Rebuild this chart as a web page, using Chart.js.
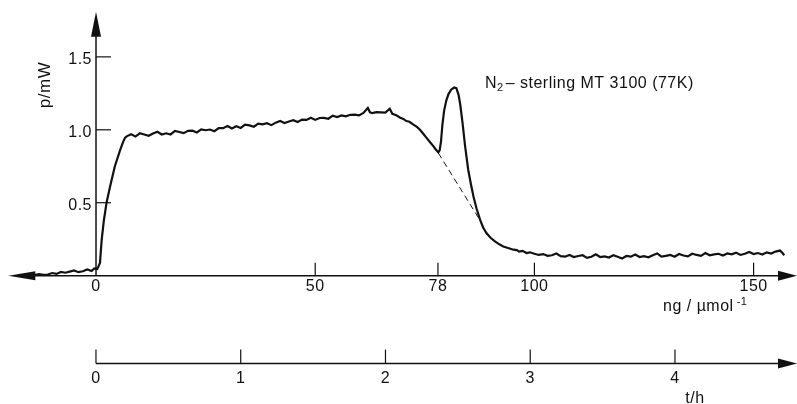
<!DOCTYPE html>
<html>
<head>
<meta charset="utf-8">
<script src="https://cdn.jsdelivr.net/npm/chart.js@4/dist/chart.umd.min.js"></script>
<style>
  body { margin: 0; background: #fff; }
  #wrap { width: 797px; height: 404px; position: relative; }
</style>
</head>
<body>
<div id="wrap"><canvas id="chart"></canvas></div>
<script>
// adsorbed amount (ng/µmol^-1) and power (mW)
const loadX = [
  -14, -13, -12, -11, -10, -9, -8, -7, -6, -5, -4, -3, -2, -1, -0.4, 0.3,
  0.9, 1.3, 1.8, 2.4, 3.2, 4.3, 5.5, 6.1, 6.6,
  7, 8, 9, 10, 11, 12, 13, 14, 15, 16, 17, 18, 19, 20, 21, 22, 23, 24, 25,
  26, 27, 28, 29, 30, 31, 32, 33, 34, 35, 36, 37, 38, 39, 40, 41, 42, 43,
  44, 45, 46, 47, 48, 49, 50, 51, 52, 53, 54, 55, 56, 57, 58, 59, 60, 61,
  62, 62.5, 63, 64, 65, 66, 67, 67.6, 68.5, 69.3, 70.1, 70.8, 71.5, 72.4,
  73.2, 73.9, 74.6, 75.4, 76.2, 76.9, 77.5, 78.1,
  78.4, 78.7, 79.0, 79.4, 79.9, 80.4, 81.0, 81.7, 82.2, 82.7, 83.1, 83.6,
  84.2, 84.9, 85.5, 86.1, 86.8, 87.6, 88.3, 89.1, 90, 91, 92, 92.9, 94,
  95.2, 96, 96.5, 97.3, 98.2, 99,
  100, 101, 102, 103, 104, 105, 106, 107, 108, 109, 110, 111, 112, 113,
  114, 115, 116, 117, 118, 119, 120, 121, 122, 123, 124, 125, 126, 127,
  128, 129, 130, 131, 132, 133, 134, 135, 136, 137, 138, 139, 140, 141,
  142, 143, 144, 145, 146, 147, 148, 149, 150, 151, 152, 153, 154, 155,
  156, 156.5, 157
];
const powerY = [
  0.004, 0.01, 0.006, 0.008, 0.018, 0.012, 0.025, 0.02, 0.028, 0.036, 0.024, 0.03, 0.042, 0.032, 0.05, 0.045,
  0.087, 0.247, 0.38, 0.5, 0.61, 0.75, 0.86, 0.91, 0.945,
  0.955, 0.969, 0.954, 0.976, 0.968, 0.959, 0.975, 0.987, 0.968, 0.976, 0.968, 0.992, 0.985, 0.977, 0.993, 0.994, 0.982, 1.003, 0.997,
  1.002, 0.99, 1.011, 1.011, 1.026, 1.009, 1.024, 1.013, 1.035, 1.03, 1.021, 1.042, 1.037, 1.045, 1.032, 1.049, 1.06, 1.047,
  1.057, 1.066, 1.053, 1.07, 1.068, 1.083, 1.068, 1.081, 1.082, 1.076, 1.097, 1.088, 1.099, 1.092, 1.103, 1.104, 1.099, 1.116,
  1.15, 1.12, 1.114, 1.121, 1.12, 1.118, 1.145, 1.11, 1.1, 1.085, 1.075, 1.06, 1.055, 1.035,
  1.02, 1.0, 0.975, 0.945, 0.915, 0.89, 0.865, 0.845,
  0.86, 0.92, 1.03, 1.13, 1.2, 1.245, 1.275, 1.29, 1.285, 1.24, 1.17, 1.05,
  0.886, 0.726, 0.63, 0.543, 0.46, 0.384, 0.33, 0.29, 0.26, 0.235, 0.215, 0.2, 0.19,
  0.178, 0.175, 0.165, 0.17, 0.155, 0.16,
  0.15, 0.142, 0.148, 0.136, 0.14, 0.152, 0.134, 0.13, 0.142, 0.128, 0.135, 0.14, 0.122, 0.13,
  0.146, 0.128, 0.132, 0.124, 0.14, 0.13, 0.118, 0.135, 0.13, 0.145, 0.128, 0.134, 0.126, 0.14,
  0.152, 0.13, 0.136, 0.142, 0.13, 0.148, 0.138, 0.132, 0.15, 0.142, 0.136, 0.155, 0.14, 0.146,
  0.15, 0.138, 0.152, 0.146, 0.158, 0.142, 0.15, 0.162, 0.148, 0.155, 0.145, 0.16, 0.152, 0.165,
  0.172, 0.158, 0.14
];
// dashed baseline under the desorption peak
const baseX = [78.1, 88];
const baseY = [0.84, 0.36];

const loadTicks = [0, 50, 78, 100, 150];
const powerTicks = [0.5, 1.0, 1.5];
const powerTickLabels = ['0.5', '1.0', '1.5'];
const hourTicks = [0, 1, 2, 3, 4];

const ink = '#111';
const family = '"Liberation Sans", Arial, sans-serif';
const font = '16px ' + family;

function arrow(ctx, x, y, dir, len, half) {
    ctx.beginPath();
    if (dir === 'right') { ctx.moveTo(x, y); ctx.lineTo(x - len, y - half); ctx.lineTo(x - len, y + half); }
    if (dir === 'left') { ctx.moveTo(x, y); ctx.lineTo(x + len, y - half); ctx.lineTo(x + len, y + half); }
    if (dir === 'up') { ctx.moveTo(x, y); ctx.lineTo(x - half, y + len); ctx.lineTo(x + half, y + len); }
    ctx.closePath();
    ctx.fill();
}

const axesPlugin = {
    id: 'handAxes',
    afterDatasetsDraw(chart) {
        const ctx = chart.ctx;
        const xs = chart.scales.x, ys = chart.scales.y, hs = chart.scales.h;
        const y0 = ys.getPixelForValue(0);
        const x0 = xs.getPixelForValue(0);
        const right = chart.width;
        ctx.save();
        ctx.strokeStyle = ink;
        ctx.fillStyle = ink;
        ctx.lineWidth = 1.5;

        // main horizontal axis
        const left = xs.getPixelForValue(-20);
        ctx.beginPath();
        ctx.moveTo(left + 10, y0);
        ctx.lineTo(right - 10, y0);
        ctx.stroke();
        arrow(ctx, left, y0, 'left', 27, 4.5);
        arrow(ctx, right, y0, 'right', 19, 5);

        // vertical axis
        const top = ys.getPixelForValue(1.81);
        ctx.beginPath();
        ctx.moveTo(x0, y0);
        ctx.lineTo(x0, top + 10);
        ctx.stroke();
        arrow(ctx, x0, top, 'up', 25, 5);

        ctx.font = font;
        ctx.letterSpacing = '0.5px';
        ctx.lineWidth = 1.2;
        // y ticks
        ctx.textAlign = 'right';
        ctx.textBaseline = 'middle';
        powerTicks.forEach((v, i) => {
            const py = ys.getPixelForValue(v);
            ctx.beginPath();
            ctx.moveTo(x0, py);
            ctx.lineTo(x0 + 15, py);
            ctx.stroke();
            ctx.fillText(powerTickLabels[i], x0 - 4, py + 3);
        });

        // x ticks
        ctx.textAlign = 'center';
        loadTicks.forEach(v => {
            const px = xs.getPixelForValue(v);
            if (v !== 0) {
                ctx.beginPath();
                ctx.moveTo(px, y0);
                ctx.lineTo(px, y0 - 13);
                ctx.stroke();
            }
            ctx.fillText(String(v), px, y0 + 11);
        });

        // second axis, time in hours
        const yb = ys.getPixelForValue(-0.603);
        const h0 = hs.getPixelForValue(0);
        ctx.lineWidth = 1.5;
        ctx.beginPath();
        ctx.moveTo(h0, yb);
        ctx.lineTo(right - 10, yb);
        ctx.stroke();
        arrow(ctx, right, yb, 'right', 19, 5);
        ctx.lineWidth = 1.2;
        hourTicks.forEach(v => {
            const px = hs.getPixelForValue(v);
            ctx.beginPath();
            ctx.moveTo(px, yb);
            ctx.lineTo(px, yb - 14);
            ctx.stroke();
            ctx.fillText(String(v), px, yb + 15);
        });

        // axis titles
        ctx.fillText('t/h', 695, 399);
        ctx.textAlign = 'left';
        ctx.textBaseline = 'alphabetic';
        const nx = 663;
        ctx.fillText('ng / \u00b5mol', nx, 311);
        const w = ctx.measureText('ng / \u00b5mol').width;
        ctx.font = '11px ' + family;
        ctx.fillText('-1', nx + w + 3, 305);

        ctx.save();
        ctx.font = '17px ' + family;
        ctx.translate(50, 85);
        ctx.rotate(-Math.PI / 2);
        ctx.textAlign = 'center';
        ctx.fillText('p/mW', 0, 0);
        ctx.restore();

        // annotation
        ctx.font = font;
        ctx.textAlign = 'left';
        ctx.textBaseline = 'alphabetic';
        let ax = 485;
        const ay = 88;
        ctx.fillText('N', ax, ay);
        ax += ctx.measureText('N').width;
        ctx.font = '11px ' + family;
        ctx.fillText('2', ax, ay + 3);
        ax += ctx.measureText('2').width + 2;
        ctx.font = font;
        ctx.fillText('\u2013 sterling MT 3100 (77K)', ax, ay);
        ctx.restore();
    }
};

const ctx = document.getElementById('chart').getContext('2d');
new Chart(ctx, {
    type: 'scatter',
    data: {
        datasets: [{
            data: loadX.map((x, i) => ({ x, y: powerY[i] })),
            showLine: true,
            borderColor: ink,
            borderWidth: 2.2,
            pointRadius: 0,
            tension: 0
        }, {
            data: baseX.map((x, i) => ({ x, y: baseY[i] })),
            showLine: true,
            borderColor: ink,
            borderWidth: 1,
            borderDash: [6, 4],
            pointRadius: 0
        }]
    },
    options: {
        responsive: true,
        maintainAspectRatio: false,
        animation: false,
        layout: { padding: 0 },
        plugins: { legend: { display: false }, tooltip: { enabled: false } },
        scales: {
            x: { type: 'linear', min: -21.9, max: 159.9, display: false },
            h: { type: 'linear', axis: 'x', min: -0.663, max: 4.843, display: false },
            y: { type: 'linear', min: -0.88, max: 1.89, display: false }
        }
    },
    plugins: [axesPlugin]
});
</script>
</body>
</html>
